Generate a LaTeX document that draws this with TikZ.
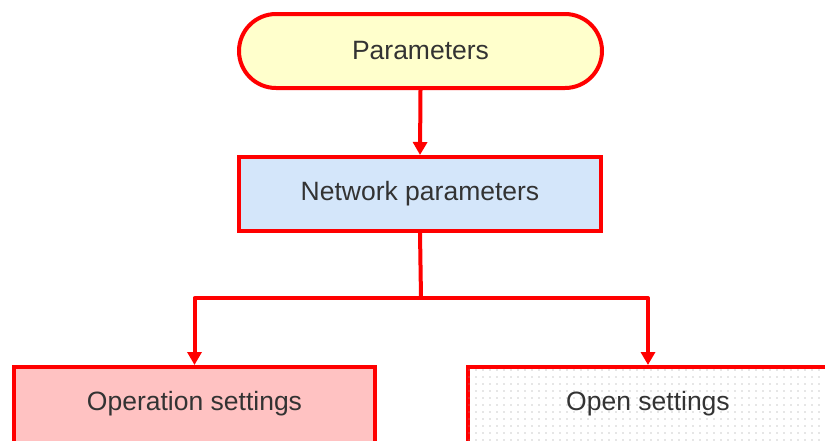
\documentclass[tikz,border=0pt]{standalone}
\usepackage{fontspec}
\setmainfont{Liberation Sans}
\usetikzlibrary{arrows.meta,patterns.meta}
\definecolor{redline}{HTML}{FF0000}
\definecolor{yellowfill}{HTML}{FFFFCC}
\definecolor{bluefill}{HTML}{D4E6FA}
\definecolor{pinkfill}{HTML}{FFC2C2}
\definecolor{txt}{HTML}{333333}
\tikzset{
  box/.style={draw=redline, line width=4pt, minimum width=361pt, minimum height=74pt,
    inner sep=0pt, text=txt, font=\fontsize{26.5}{30}\selectfont},
  lowbox/.style={box, minimum height=84pt},
  conn/.style={draw=redline, line width=4pt, line join=round},
  arr/.style={conn, -{Triangle[length=13pt,width=14pt]}},
}
\begin{document}
\begin{tikzpicture}[x=1pt,y=-1pt]
\useasboundingbox (0,0) rectangle (825,440);
\node[box, fill=yellowfill, minimum width=363pt, rounded corners=37pt] (par) at (420.5,51) {Parameters};
\node[box, fill=bluefill, minimum width=362pt] (net) at (420,194) {Network parameters};
\node[lowbox, fill=pinkfill] (op) at (194.5,409) {};
\node[text=txt, font=\fontsize{26.5}{30}\selectfont] (optxt) at (194.5,404) {Operation settings};
\node[lowbox, fill=white, postaction={pattern={Dots[distance=7pt,radius=0.7pt]}, pattern color=gray!85}] (open) at (648,409) {};
\node[text=txt, font=\fontsize{26.5}{30}\selectfont] (opentxt) at (648,404) {Open settings};
\coordinate (j) at (421,298);
\draw[arr] (par.south) -- (net.north);
\draw[conn] (net.south) -- (j);
\draw[arr] (j) -| (op.north);
\draw[arr] (j) -| (open.north);
\end{tikzpicture}
\end{document}
